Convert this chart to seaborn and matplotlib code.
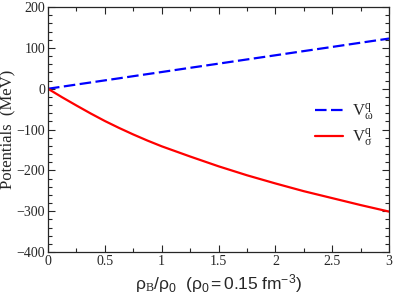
import matplotlib
matplotlib.use('Agg')
import matplotlib.pyplot as plt
from matplotlib.ticker import MultipleLocator
import pandas as pd
import seaborn as sns

# density ratio rho_B / rho_0 and quark potentials (MeV)
density = [0.0, 0.125, 0.25, 0.375, 0.5, 0.625, 0.75, 0.875, 1.0, 1.25, 1.5, 1.75,
           2.0, 2.25, 2.5, 2.75, 3.0]
v_omega = [0.0, 5.1, 10.3, 15.4, 20.5, 25.6, 30.8, 35.9, 41.0, 51.3, 61.5, 71.8,
           82.0, 92.3, 102.5, 112.8, 123.0]
v_sigma = [0.0, -21.0, -41.0, -60.5, -79.0, -96.0, -112.0, -127.0, -141.0, -166.0,
           -190.0, -212.0, -232.0, -251.0, -268.0, -285.0, -301.0]

df = pd.concat([
    pd.DataFrame({'x': density, 'V': v_omega, 'pot': 'omega'}),
    pd.DataFrame({'x': density, 'V': v_sigma, 'pot': 'sigma'}),
])

sns.set_style("ticks")
plt.rcParams['font.family'] = ['Liberation Serif', 'DejaVu Serif']
plt.rcParams['mathtext.fontset'] = 'custom'
plt.rcParams['mathtext.rm'] = 'Liberation Serif'
plt.rcParams['mathtext.it'] = 'Liberation Serif:italic'
plt.rcParams['mathtext.sf'] = 'Liberation Sans'

fig = plt.figure(figsize=(3.95, 2.97), dpi=100)
ax = fig.add_axes([0.1215, 0.1515, 0.8635, 0.8245])

sns.lineplot(data=df, x='x', y='V', hue='pot', style='pot',
             palette={'omega': '#0000ff', 'sigma': '#ff0000'},
             dashes={'omega': (5.2, 2.0), 'sigma': ''},
             linewidth=1.6, ax=ax, legend=False)

ax.set_xlim(0, 3)
ax.set_ylim(-400, 200)
ax.set_xticks([0, 0.5, 1, 1.5, 2, 2.5, 3])
ax.set_xticklabels(['0', '0.5', '1', '1.5', '2', '2.5', '3'])
ax.xaxis.set_minor_locator(MultipleLocator(0.25))
ax.yaxis.set_major_locator(MultipleLocator(100))
ax.yaxis.set_minor_locator(MultipleLocator(20))
ax.tick_params(which='both', direction='in', top=True, right=True,
               width=0.8, labelsize=10, pad=2)
ax.tick_params(which='major', length=5)
ax.tick_params(which='minor', length=3)
for s in ax.spines.values():
    s.set_linewidth(0.9)

ax.set_ylabel('Potentials  (MeV)', fontsize=12, labelpad=1)
ax.set_xlabel(r'$\mathsf{\rho}_\mathrm{B}\mathsf{/\rho_0}$  $\mathsf{(\rho_0 = 0.15\ fm^{-3})}$',
              fontsize=12.5, labelpad=3, family='Liberation Sans')

lines = ax.get_lines()
ax.legend(lines[:2], [r'$\mathrm{V^q_{\omega}}$', r'$\mathrm{V^q_{\sigma}}$'],
          loc='center left', bbox_to_anchor=(0.74, 0.52), frameon=False,
          fontsize=12, handlelength=1.65, handletextpad=0.55, labelspacing=0.3)

fig.savefig('out.png', dpi=100)
